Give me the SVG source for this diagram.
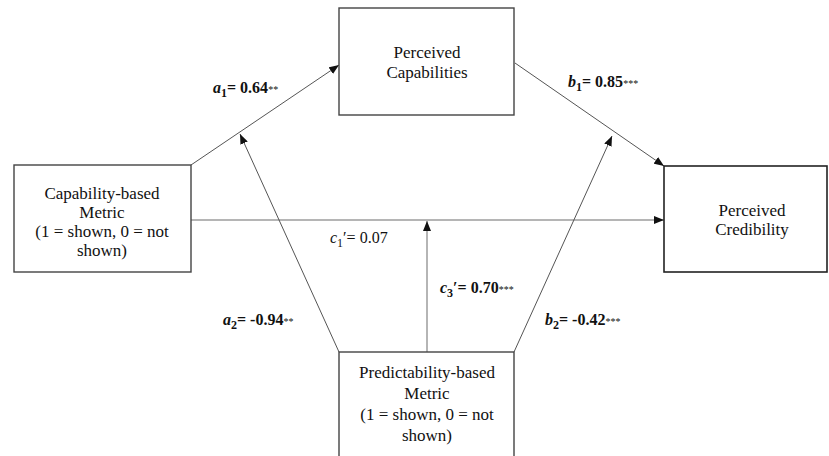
<svg xmlns="http://www.w3.org/2000/svg" width="829" height="456" viewBox="0 0 829 456">
<defs>
<marker id="ah" markerUnits="userSpaceOnUse" markerWidth="11" markerHeight="8" refX="10" refY="4" orient="auto">
<path d="M0,0 L10,4 L0,8 z" fill="#111"/>
</marker>
<style>
.box{fill:#fff;stroke:#444;stroke-width:1.4}
.t{font-family:"Liberation Serif","Times New Roman",serif;font-size:17px;fill:#111;text-anchor:middle}
.lbl{font-family:"Liberation Serif","Times New Roman",serif;font-size:16px;fill:#111;font-weight:bold}
.plain{font-weight:normal}
.it{font-style:italic}
.sub{font-size:12px}
.st{font-size:10px;font-weight:normal}
.thin{fill:none;stroke:#555;stroke-width:1}
.gray{fill:none;stroke:#b5b5b5;stroke-width:2}
</style>
</defs>
<rect width="829" height="456" fill="#fff"/>
<g id="connectors">
<path class="thin" d="M191,165 L339,65" marker-end="url(#ah)"/>
<path class="thin" d="M515,63 L664,166" marker-end="url(#ah)"/>
<path class="gray" d="M191,220 L664,220" marker-end="url(#ah)"/>
<path class="gray" d="M427,352 L427,221" marker-end="url(#ah)"/>
<path class="thin" d="M339,352 L240,134" marker-end="url(#ah)"/>
<path class="thin" d="M514,352 L612,136" marker-end="url(#ah)"/>
</g>
<g id="node-capability-metric">
<rect class="box" x="14" y="165" width="177" height="107"/>
<text class="t" x="102" y="199">Capability-based</text>
<text class="t" x="102" y="218">Metric</text>
<text class="t" x="102" y="237">(1 = shown, 0 = not</text>
<text class="t" x="102" y="256">shown)</text>
</g>
<g id="node-perceived-capabilities">
<rect class="box" x="339" y="8" width="175" height="107"/>
<text class="t" x="427" y="58">Perceived</text>
<text class="t" x="427" y="78">Capabilities</text>
</g>
<g id="node-perceived-credibility">
<rect class="box" x="664" y="166" width="163" height="106" style="stroke:#222;stroke-width:1.6"/>
<text class="t" x="752" y="216">Perceived</text>
<text class="t" x="752" y="235">Credibility</text>
</g>
<g id="node-predictability-metric">
<rect class="box" x="339" y="352" width="175" height="110"/>
<text class="t" x="427" y="378">Predictability-based</text>
<text class="t" x="427" y="399">Metric</text>
<text class="t" x="427" y="420">(1 = shown, 0 = not</text>
<text class="t" x="427" y="441">shown)</text>
</g>
<g id="labels">
<text class="lbl" x="213" y="93"><tspan class="it">a</tspan><tspan class="sub" dy="4">1</tspan><tspan dy="-4">= 0.64</tspan><tspan class="st">**</tspan></text>
<text class="lbl" x="568" y="87"><tspan class="it">b</tspan><tspan class="sub" dy="4">1</tspan><tspan dy="-4">= 0.85</tspan><tspan class="st">***</tspan></text>
<text class="lbl plain" x="330" y="243"><tspan class="it">c</tspan><tspan class="sub" dy="4">1</tspan><tspan dy="-4">′= 0.07</tspan></text>
<text class="lbl" x="440" y="293"><tspan class="it">c</tspan><tspan class="sub" dy="4">3</tspan><tspan dy="-4">′= 0.70</tspan><tspan class="st">***</tspan></text>
<text class="lbl" x="223" y="325"><tspan class="it">a</tspan><tspan class="sub" dy="4">2</tspan><tspan dy="-4">= -0.94</tspan><tspan class="st">**</tspan></text>
<text class="lbl" x="545" y="325"><tspan class="it">b</tspan><tspan class="sub" dy="4">2</tspan><tspan dy="-4">= -0.42</tspan><tspan class="st">***</tspan></text>
</g>
</svg>
